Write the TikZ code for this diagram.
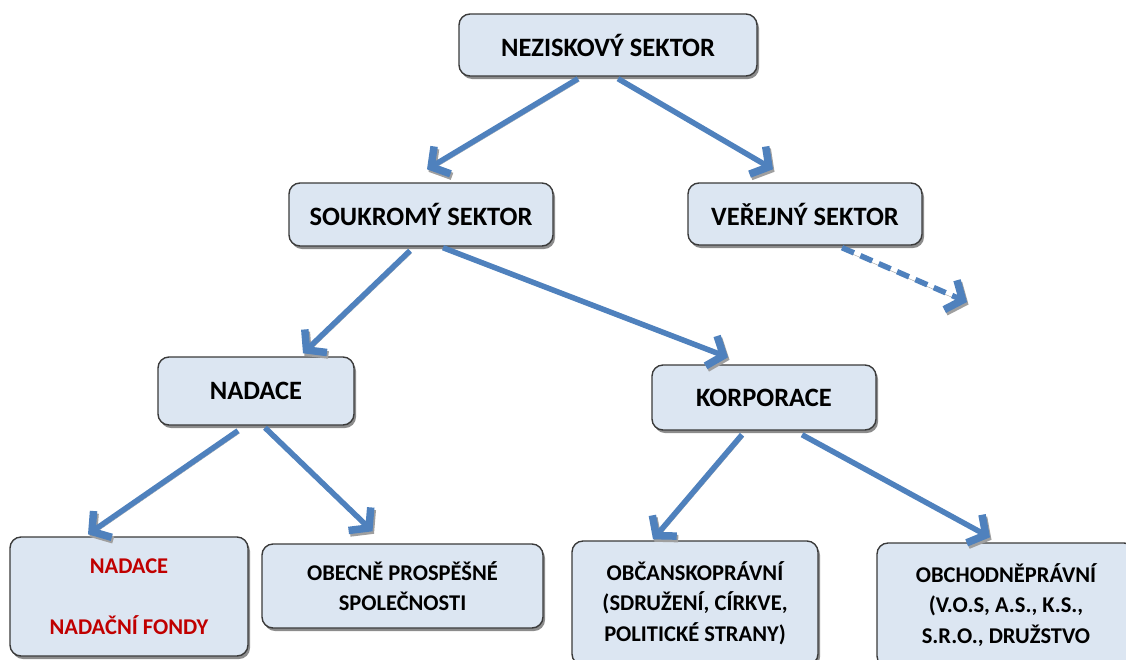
\documentclass[tikz,border=0pt]{standalone}
\usepackage{fontspec}
\setmainfont{Carlito}
\usetikzlibrary{arrows.meta,calc,shadows}
\definecolor{boxfill}{HTML}{DCE6F2}
\definecolor{boxline}{HTML}{3A3A3A}
\definecolor{arrowblue}{HTML}{4F81BD}
\definecolor{redtext}{HTML}{C00000}
\tikzset{
  box/.style={draw=boxline, line width=1.4pt, fill=boxfill, rounded corners=11pt,
    align=center, inner sep=0pt, font=\bfseries\fontsize{26.5}{30}\selectfont,
    drop shadow={shadow xshift=2pt, shadow yshift=-3pt, opacity=0.45, fill=black}},
  smallbox/.style={box, font=\bfseries\fontsize{22.5}{30.5}\selectfont},
  link/.style={draw=arrowblue, line width=5.5pt,
    -{Straight Barb[length=13pt,width=32pt,line width=7.5pt 0]},
    preaction={draw=gray!75, transform canvas={xshift=1.5pt,yshift=-2.5pt}}},
}
\begin{document}
\begin{tikzpicture}[x=1pt,y=-1pt]
  \useasboundingbox (0,0) rectangle (1126,659);

  % nodes of the hierarchy
  \node[box, minimum width=298pt, minimum height=62pt] (top) at (608,45) {NEZISKOVÝ SEKTOR};
  \node[box, minimum width=264pt, minimum height=63pt] (priv) at (421,214.5) {SOUKROMÝ SEKTOR};
  \node[box, minimum width=234pt, minimum height=62pt] (pub) at (805,214) {VEŘEJNÝ SEKTOR};
  \node[box, minimum width=196pt, minimum height=68pt] (nad) at (256,391) {NADACE};
  \node[box, minimum width=224pt, minimum height=65pt] (korp) at (764,397.5) {KORPORACE};
  \node[smallbox, minimum width=238pt, minimum height=119pt, text=redtext] (nf) at (129,596.5)
    {NADACE\\[30.5pt]NADAČNÍ FONDY};
  \node[smallbox, minimum width=281pt, minimum height=84pt] (ops) at (402.5,586)
    {OBECNĚ PROSPĚŠNÉ\\SPOLEČNOSTI};
  \node[smallbox, minimum width=246pt, minimum height=124pt] (obc) at (695,603)
    {OBČANSKOPRÁVNÍ\\(SDRUŽENÍ, CÍRKVE,\\POLITICKÉ STRANY)};
  \node[smallbox, minimum width=258pt, minimum height=124pt] (obch) at (1006,605)
    {OBCHODNĚPRÁVNÍ\\(V.O.S, A.S., K.S.,\\S.R.O., DRUŽSTVO};

  \coordinate (pubout) at (967,302);

  % connectors
  \draw[link] ($(top.south)+(-30,2)$) -- ($(priv.north)+(6,-13)$);
  \draw[link] ($(top.south)+(10,2)$) -- ($(pub.north)+(-32,-13)$);
  \draw[link] ($(priv.south)+(-11,4)$) -- ($(nad.north)+(47,-3)$);
  \draw[link] ($(priv.south)+(22,1)$) -- ($(korp.north)+(-36,-7)$);
  \draw[link, dash pattern=on 13pt off 7pt] ($(pub.south)+(37,2)$) -- (pubout);
  \draw[link] ($(nad.south)+(-18,5)$) -- ($(nf.north)+(-41,-2)$);
  \draw[link] ($(nad.south)+(9,2)$) -- ($(ops.north)+(-30,-12)$);
  \draw[link] ($(korp.south)+(-22,4)$) -- ($(obc.north)+(-42,-1)$);
  \draw[link] ($(korp.south)+(38,4)$) -- ($(obch.north)+(-16,-5)$);
\end{tikzpicture}
\end{document}
